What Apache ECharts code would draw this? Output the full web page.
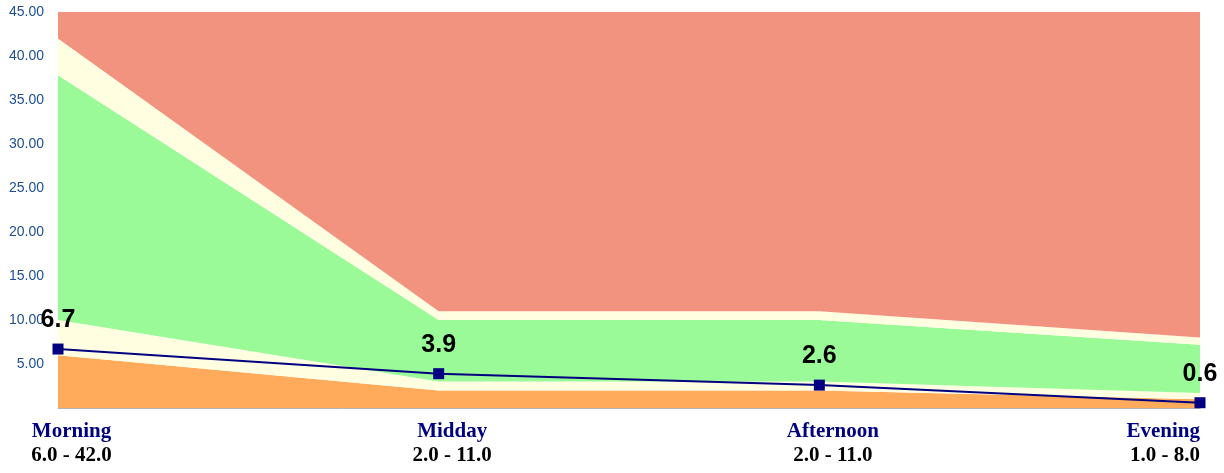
<!DOCTYPE html>
<html>
<head>
<meta charset="utf-8">
<script src="https://cdn.jsdelivr.net/npm/echarts@6/dist/echarts.min.js"></script>
<style>html,body{margin:0;padding:0;background:#fff;}#c{width:1224px;height:473px;}</style>
</head>
<body>
<div id="c"></div>
<script>
const categories = ['Morning', 'Midday', 'Afternoon', 'Evening'];
const rangeLabels = ['6.0 - 42.0', '2.0 - 11.0', '2.0 - 11.0', '1.0 - 8.0'];
const lowBase = [6, 2, 2, 1];
const lowerBand = [4, 1, 1, 0.7];
const middleBand = [27.8, 7, 7, 5.5];
const upperBand = [4.2, 1, 1, 0.8];
const topBand = [3, 34, 34, 37];
const averages = [6.7, 3.9, 2.6, 0.6];
const yTicks = { min: 0, max: 45, interval: 5 };

function band(name, data, color) {
  return {
    name: name, type: 'line', stack: 'bands', data: data,
    symbol: 'none', lineStyle: { width: 0 }, areaStyle: { color: color, opacity: 1 },
    silent: true, z: 1
  };
}

const chart = echarts.init(document.getElementById('c'), null, { renderer: 'canvas' });
chart.setOption({
  animation: false,
  grid: { left: 58, right: 24, top: 12, bottom: 65 },
  xAxis: {
    type: 'category', data: categories, boundaryGap: false,
    axisLine: { show: true, lineStyle: { color: '#b4b4b4', width: 1 } },
    axisTick: { show: false },
    axisLabel: {
      margin: 12, interval: 0, alignMaxLabel: 'right',
      padding: [0, 0, 0, 27],
      formatter: function (v, i) { return '{a|' + v + '}\n{b|' + rangeLabels[i] + '}'; },
      rich: {
        a: { fontFamily: 'Liberation Serif', fontWeight: 'bold', fontSize: 21, color: '#000080', lineHeight: 24 },
        b: { fontFamily: 'Liberation Serif', fontWeight: 'bold', fontSize: 21, color: '#000000', lineHeight: 24 }
      }
    }
  },
  yAxis: {
    type: 'value', min: yTicks.min, max: yTicks.max, interval: yTicks.interval,
    splitLine: { show: false }, axisLine: { show: false }, axisTick: { show: false },
    axisLabel: {
      showMinLabel: false, margin: 14,
      fontFamily: 'Liberation Sans', fontSize: 14, color: '#1f4e96',
      formatter: function (v) { return v.toFixed(2); }
    }
  },
  series: [
    band('low', lowBase, '#FFAB5B'),
    band('lower', lowerBand, '#FFFEE0'),
    band('middle', middleBand, '#9AFA98'),
    band('upper', upperBand, '#FFFEE0'),
    band('top', topBand, '#F2937F'),
    {
      name: 'average', type: 'line', data: averages, z: 5,
      symbol: 'rect', symbolSize: 11,
      itemStyle: { color: '#000080' },
      lineStyle: { color: '#000080', width: 2 },
      label: {
        show: true, position: 'top', distance: 11,
        fontFamily: 'Liberation Sans', fontWeight: 'bold', fontSize: 25, color: '#000000',
        formatter: function (p) { return p.value.toFixed(1); }
      }
    }
  ]
});
</script>
</body>
</html>
